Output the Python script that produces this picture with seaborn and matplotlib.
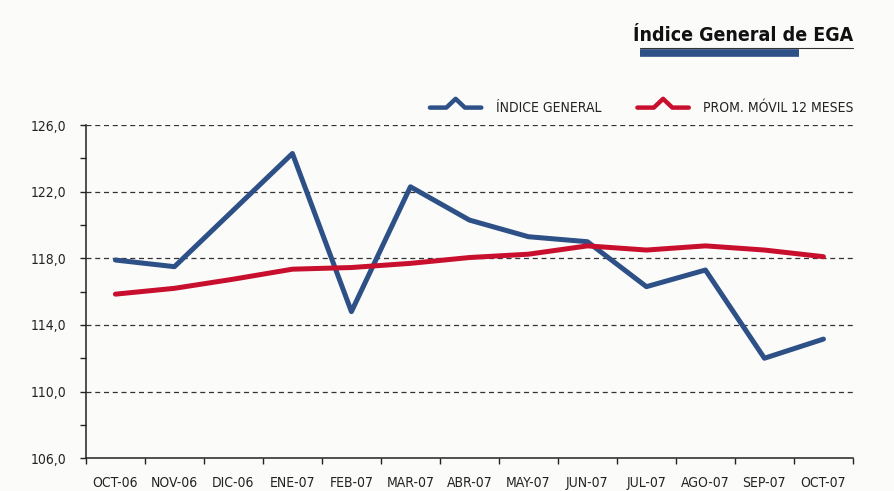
import matplotlib
matplotlib.use("Agg")
import matplotlib.pyplot as plt
from matplotlib.legend_handler import HandlerBase
from matplotlib.lines import Line2D
from matplotlib.ticker import FixedLocator, NullFormatter
import seaborn as sns
import numpy as np
import pandas as pd

months = ["OCT-06", "NOV-06", "DIC-06", "ENE-07", "FEB-07", "MAR-07", "ABR-07",
          "MAY-07", "JUN-07", "JUL-07", "AGO-07", "SEP-07", "OCT-07"]
indice_general = [117.9, 117.5, 120.9, 124.3, 114.8, 122.3, 120.3,
                  119.3, 119.0, 116.3, 117.3, 112.0, 113.15]
prom_movil = [115.85, 116.2, 116.75, 117.35, 117.45, 117.7, 118.05,
              118.25, 118.75, 118.5, 118.75, 118.5, 118.1]

BLUE = "#2d5086"
RED = "#c8102e"
BG = "#fbfbfa"


class HandlerZigzag(HandlerBase):
    # legend icon: flat line with a small peak in the middle
    def create_artists(self, legend, orig_handle, xdescent, ydescent,
                       width, height, fontsize, trans):
        w, h = width, height
        xs = [0, 0.32 * w, 0.5 * w, 0.68 * w, w]
        ys = [0.3 * h, 0.3 * h, 0.88 * h, 0.3 * h, 0.3 * h]
        ln = Line2D(xs, ys, color=orig_handle.get_color(),
                    lw=orig_handle.get_linewidth(), solid_capstyle="round",
                    solid_joinstyle="round")
        ln.set_transform(trans)
        return [ln]


def main():
    sns.set_style("white")
    plt.rcParams["font.family"] = ["DejaVu Sans"]
    plt.rcParams["font.stretch"] = "condensed"

    df = pd.DataFrame({"mes": months, "indice": indice_general, "prom": prom_movil})

    fig = plt.figure(figsize=(8.95, 4.91), dpi=100, facecolor=BG)
    ax = fig.add_axes([0.096, 0.067, 0.857, 0.678])
    ax.set_facecolor(BG)

    sns.lineplot(x="mes", y="indice", data=df, ax=ax, color=BLUE, lw=3.6,
                 sort=False, zorder=3)
    sns.lineplot(x="mes", y="prom", data=df, ax=ax, color=RED, lw=3.6,
                 sort=False, zorder=4)

    ax.set_xlim(-0.5, len(months) - 0.5)
    ax.set_ylim(106, 126)
    ax.set_xlabel("")
    ax.set_ylabel("")

    # x: tick marks at category borders, labels centered
    ax.xaxis.set_major_locator(FixedLocator(np.arange(-0.5, len(months), 1.0)))
    ax.xaxis.set_major_formatter(NullFormatter())
    ax.xaxis.set_minor_locator(FixedLocator(np.arange(len(months))))
    ax.set_xticklabels(months, minor=True)
    ax.tick_params(axis="x", which="major", length=4, width=1, color="#222222",
                   direction="out", bottom=True)
    ax.tick_params(axis="x", which="minor", length=0, pad=13, labelsize=10,
                   labelcolor="#222222", bottom=True)

    # y
    yt = np.arange(106, 127, 4)
    ax.set_yticks(yt)
    ax.set_yticklabels([f"{v:.1f}".replace(".", ",") for v in yt])
    ax.set_yticks(np.arange(108, 126, 4), minor=True)
    ax.tick_params(axis="y", which="both", length=4, width=1, color="#222222",
                   direction="out", left=True, labelsize=10, labelcolor="#222222",
                   pad=10)
    for v in np.arange(110, 127, 4):
        ax.axhline(v, color="#333333", lw=0.9, ls=(0, (4, 3)), zorder=1)

    for s in ["top", "right"]:
        ax.spines[s].set_visible(False)
    for s in ["left", "bottom"]:
        ax.spines[s].set_color("#222222")
        ax.spines[s].set_linewidth(1.1)

    h1 = Line2D([], [], color=BLUE, lw=3.2)
    h2 = Line2D([], [], color=RED, lw=3.2)
    fig.legend([h1, h2], ["ÍNDICE GENERAL", "PROM. MÓVIL 12 MESES"],
               handler_map={Line2D: HandlerZigzag()}, ncol=2, frameon=False,
               loc="center right", bbox_to_anchor=(0.968, 0.781),
               fontsize=10, handlelength=3.7, handleheight=1.3,
               handletextpad=1.05, columnspacing=2.6, labelcolor="#222222")

    # title block
    fig.text(0.953, 0.928, "Índice General de EGA", ha="right", va="center",
             fontsize=14, fontweight="bold", color="#111111")
    fig.add_artist(Line2D([0.715, 0.953], [0.902, 0.902], color="#333333",
                          lw=0.8, transform=fig.transFigure))
    fig.add_artist(Line2D([0.715, 0.893], [0.893, 0.893], color=BLUE,
                          lw=5.5, solid_capstyle="butt",
                          transform=fig.transFigure))

    fig.savefig("out.png", dpi=100, facecolor=BG)


if __name__ == "__main__":
    main()
